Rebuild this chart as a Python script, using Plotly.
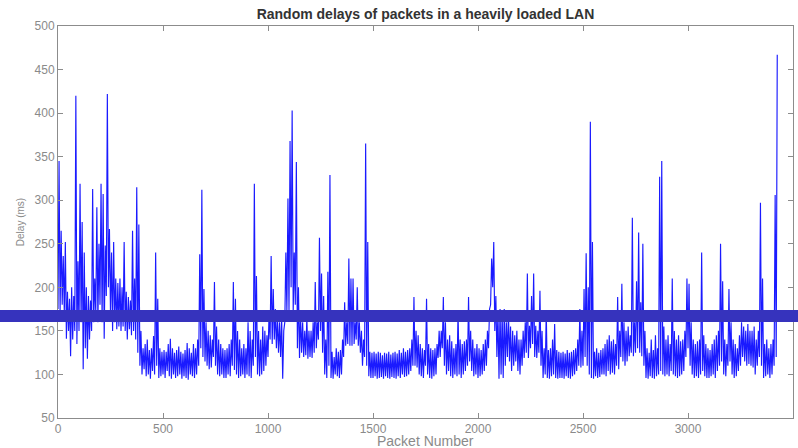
import plotly.graph_objects as go

# Delay (ms), per 10-packet bin:
# lowest reading at the start of each bin, highest reading half-way through it
delay_high = [
    345, 265, 236, 252, 195, 187, 200, 190, 420, 230,
    319, 275, 240, 200, 190, 185, 313, 210, 292, 250,
    319, 307, 248, 422, 267, 240, 252, 210, 205, 210,
    200, 252, 195, 189, 185, 265, 210, 315, 272, 150,
    130, 135, 140, 128, 130, 144, 240, 187, 130, 126,
    128, 126, 135, 141, 130, 125, 128, 132, 126, 124,
    128, 136, 130, 125, 135, 130, 140, 238, 312, 198,
    160, 150, 145, 140, 206, 155, 140, 135, 130, 128,
    130, 135, 140, 206, 187, 150, 140, 130, 135, 130,
    160, 150, 140, 319, 213, 150, 140, 155, 150, 145,
    170, 236, 198, 175, 165, 160, 165, 150, 240, 302,
    368, 403, 240, 344, 200, 170, 160, 150, 165, 150,
    150, 160, 206, 160, 257, 216, 190, 140, 218, 329,
    126, 120, 130, 126, 128, 140, 183, 160, 233, 210,
    210, 160, 200, 160, 150, 140, 365, 252, 126, 125,
    126, 124, 126, 125, 122, 125, 124, 126, 123, 125,
    126, 124, 128, 125, 130, 126, 128, 130, 140, 189,
    150, 145, 135, 130, 128, 187, 135, 130, 128, 130,
    135, 150, 150, 189, 160, 140, 145, 138, 130, 135,
    173, 140, 135, 138, 140, 189, 150, 140, 130, 135,
    130, 128, 135, 140, 150, 175, 233, 252, 190, 172,
    175, 172, 175, 160, 172, 155, 150, 145, 150, 140,
    140, 150, 160, 216, 156, 190, 216, 156, 150, 196,
    150, 130, 173, 128, 130, 140, 158, 128, 126, 125,
    126, 124, 128, 125, 126, 128, 130, 140, 175, 150,
    198, 239, 200, 390, 252, 126, 130, 125, 128, 130,
    135, 140, 145, 138, 140, 135, 189, 150, 204, 160,
    150, 155, 145, 280, 160, 207, 263, 183, 250, 150,
    130, 125, 140, 128, 145, 130, 327, 345, 155, 140,
    145, 135, 210, 150, 140, 145, 138, 140, 150, 210,
    204, 160, 140, 135, 138, 140, 240, 145, 135, 130,
    128, 135, 140, 145, 150, 250, 207, 140, 135, 198,
    160, 140, 135, 130, 145, 160, 155, 150, 158, 150,
    150, 155, 140, 150, 297, 210, 135, 140, 130, 135,
    140, 306, 467,
]
delay_low = [
    175, 172, 180, 170, 141, 150, 121, 140, 150, 135,
    150, 160, 106, 130, 118, 140, 150, 160, 170, 160,
    180, 160, 141, 190, 200, 170, 150, 160, 152, 155,
    150, 155, 150, 140, 152, 145, 150, 140, 125, 110,
    100, 106, 98, 100, 95, 104, 100, 110, 96, 98,
    100, 96, 104, 98, 95, 100, 96, 98, 100, 95,
    98, 96, 94, 100, 98, 96, 100, 110, 130, 120,
    115, 110, 106, 108, 120, 110, 100, 98, 100, 96,
    96, 100, 98, 110, 105, 100, 96, 98, 100, 96,
    100, 98, 96, 110, 120, 100, 98, 100, 104, 110,
    120, 140, 135, 140, 130, 125, 120, 95, 160, 172,
    172, 200, 172, 180, 130, 119, 125, 120, 122, 118,
    120, 119, 125, 130, 140, 150, 125, 100, 96, 110,
    96, 95, 100, 98, 96, 100, 120, 133, 135, 133,
    133, 135, 140, 133, 125, 110, 120, 110, 98, 96,
    96, 98, 95, 96, 97, 95, 98, 96, 95, 97,
    96, 95, 98, 96, 100, 97, 98, 100, 104, 110,
    110, 108, 100, 98, 96, 110, 100, 96, 95, 98,
    100, 119, 120, 130, 110, 100, 104, 98, 96, 100,
    98, 100, 96, 100, 104, 110, 115, 104, 98, 100,
    96, 98, 100, 104, 110, 130, 180, 200, 150, 120,
    95, 100, 96, 110, 120, 115, 104, 110, 115, 104,
    100, 110, 119, 125, 119, 130, 135, 120, 119, 125,
    110, 96, 100, 96, 95, 98, 100, 96, 95, 96,
    96, 95, 98, 96, 95, 98, 100, 104, 110, 108,
    110, 120, 110, 100, 96, 95, 98, 96, 97, 100,
    100, 98, 104, 100, 102, 100, 110, 106, 120, 115,
    110, 115, 121, 125, 121, 125, 130, 125, 121, 110,
    96, 95, 98, 96, 95, 98, 100, 104, 100, 98,
    100, 98, 104, 100, 98, 96, 98, 100, 104, 120,
    130, 110, 100, 96, 98, 96, 100, 104, 98, 96,
    96, 98, 100, 96, 104, 110, 115, 100, 98, 110,
    115, 100, 96, 98, 104, 110, 120, 115, 110, 112,
    110, 108, 100, 110, 120, 110, 96, 98, 100, 96,
    100, 110, 120,
]
bin_size = 10  # packets per bin

# Axis settings
x_range = [0, 3500]
x_ticks = [0, 500, 1000, 1500, 2000, 2500, 3000, 3500]
y_range = [50, 500]
y_ticks = [50, 100, 150, 200, 250, 300, 350, 400, 450, 500]

# Horizontal reference level (ms)
reference_level = 167

assert len(delay_high) == len(delay_low)
packet_number, delay_ms = [], []
for i, (lo, hi) in enumerate(zip(delay_low, delay_high)):
    packet_number += [i * bin_size, i * bin_size + bin_size // 2]
    delay_ms += [lo, hi]

axis_color = "#8c8c8c"
label_color = "#8a8a8a"
font_family = "Liberation Sans, Arial, sans-serif"

fig = go.Figure()
fig.add_trace(go.Scatter(
    x=packet_number, y=delay_ms, mode="lines",
    line=dict(color="#1a1aff", width=1.15),
    showlegend=False, hoverinfo="skip",
))

y_paper = (reference_level - y_range[0]) / (y_range[1] - y_range[0])
fig.add_shape(type="line", xref="paper", yref="paper",
              x0=-0.1, x1=1.1, y0=y_paper, y1=y_paper,
              line=dict(color="#3633BD", width=12), layer="above")

axis_common = dict(
    showgrid=False, zeroline=False, showline=True, linecolor=axis_color,
    linewidth=1, mirror="ticks", ticks="inside", ticklen=5, automargin=False,
    tickcolor=axis_color, tickfont=dict(size=12, color=label_color, family=font_family),
)
fig.update_xaxes(range=x_range, tickvals=x_ticks, ticktext=[str(t) for t in x_ticks],
                 **axis_common)
fig.update_yaxes(range=y_range, tickvals=y_ticks, ticktext=[str(t) for t in y_ticks],
                 title=dict(text="Delay (ms)", font=dict(size=10, color=label_color, family=font_family), standoff=8),
                 **axis_common)

# x-axis title placed just below the tick labels
fig.add_annotation(text="Packet Number", xref="paper", yref="paper",
                   x=0.5, y=-0.058, xanchor="center", yanchor="middle",
                   showarrow=False, font=dict(size=14, color=label_color, family=font_family))

fig.update_layout(
    width=798, height=448,
    margin=dict(l=58, r=5, t=26, b=30, autoexpand=False),
    paper_bgcolor="white", plot_bgcolor="white",
    title=dict(text="<b>Random delays of packets in a heavily loaded LAN</b>",
               x=0.5, xref="paper", xanchor="center", y=0.968, yanchor="middle",
               font=dict(size=14, color="#333333", family=font_family)),
)

fig.write_html("out.html")
